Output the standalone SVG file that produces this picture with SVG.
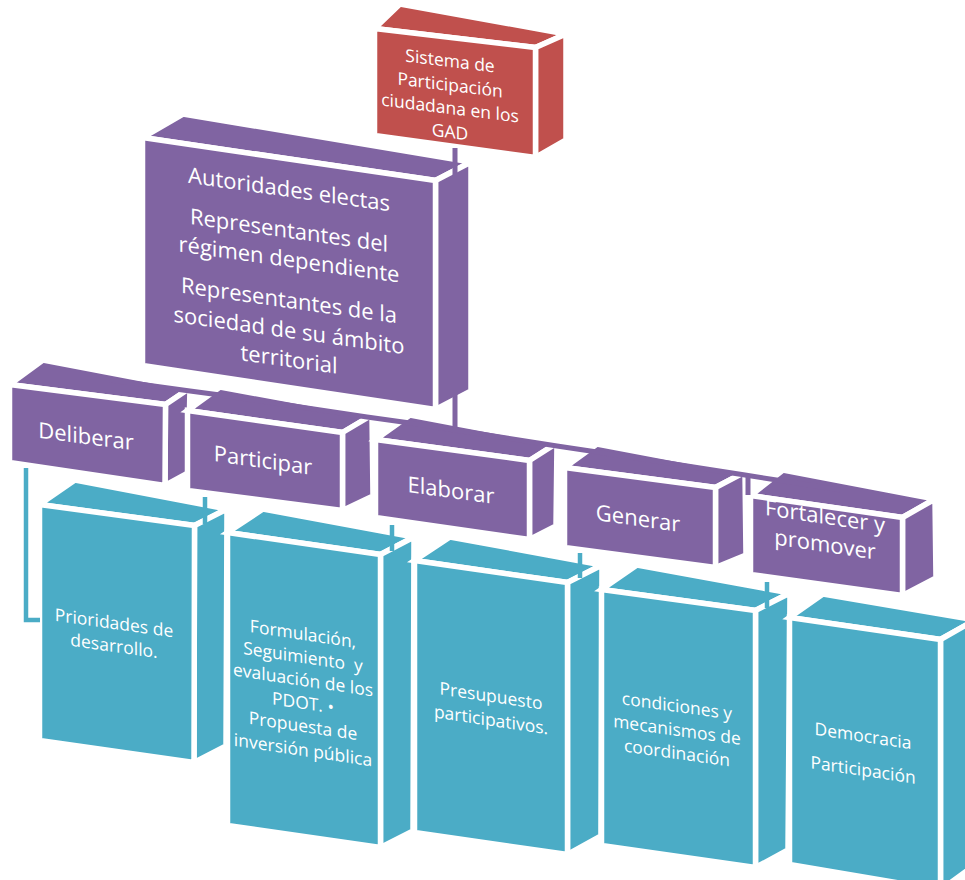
<svg xmlns="http://www.w3.org/2000/svg" width="965" height="880" viewBox="0 0 965 880">
<style>
.r{fill:#C0504D;stroke:#fff;stroke-width:5.5;stroke-linejoin:miter}
.p{fill:#8064A2;stroke:#fff;stroke-width:5.5;stroke-linejoin:miter}
.b{fill:#4BACC6;stroke:#fff;stroke-width:5.5;stroke-linejoin:miter}
.t{font-family:"Open Sans","Liberation Sans",sans-serif;fill:#fff;text-anchor:middle}
.cp{fill:none;stroke:#8064A2;stroke-width:5}
.cb{fill:none;stroke:#4BACC6;stroke-width:4.5}
</style>
<rect width="965" height="880" fill="#fff"/>

<g id="n-sistema">
<polygon class="r" points="374.5,28.5 535.5,47.5 566,34 400,4"/>
<polygon class="r" points="535.5,47.5 566,34 566,140 535.5,157.5"/>
<polygon class="r" points="374.5,28.5 535.5,47.5 535.5,157.5 374.5,135.5"/>
<text class="t" font-size="17.5" transform="translate(450,0) skewY(7)"><tspan x="0" y="67">Sistema de</tspan><tspan x="0" y="91">Participación</tspan><tspan x="0" y="114">ciudadana en los</tspan><tspan x="0" y="138">GAD</tspan></text>
</g>

<g id="n-miembros">
<polygon class="p" points="142.5,137.5 435.5,180.5 471,162 183,114"/>
<polygon class="p" points="435.5,180.5 471,162 471,391 435.5,409.5"/>
<polygon class="p" points="142.5,137.5 435.5,180.5 435.5,409.5 142.5,365.5"/>
<text class="t" font-size="22" transform="translate(289,0) skewY(8)"><tspan x="0" y="197">Autoridades electas</tspan><tspan x="0" y="238">Representantes del</tspan><tspan x="0" y="267">régimen dependiente</tspan><tspan x="0" y="308">Representantes de la</tspan><tspan x="0" y="338">sociedad de su ámbito</tspan><tspan x="0" y="367">territorial</tspan></text>
</g>

<g id="n-deliberar">
<polygon class="p" points="9.5,384.5 165.5,404.5 190,388 43,360"/>
<polygon class="p" points="165.5,404.5 190,388 188,473 165,485.5"/>
<polygon class="p" points="9.5,384.5 165.5,404.5 165,485.5 9.5,462.5"/>
<text class="t" font-size="22" transform="translate(86,0) skewY(7.5)"><tspan x="0" y="444">Deliberar</tspan></text>
</g>

<g id="n-participar">
<polygon class="p" points="187.5,410.5 342.5,432.5 372,415 220,387"/>
<polygon class="p" points="342.5,432.5 372,415 373,496 342.5,510.5"/>
<polygon class="p" points="187.5,410.5 342.5,432.5 342.5,510.5 187.5,490.5"/>
<text class="t" font-size="22" transform="translate(263,0) skewY(8)"><tspan x="0" y="468">Participar</tspan></text>
</g>

<g id="n-elaborar">
<polygon class="p" points="375.5,439.5 529.5,460.5 557,443 410,415"/>
<polygon class="p" points="529.5,460.5 557,443 556,526 529.5,539.5"/>
<polygon class="p" points="375.5,439.5 529.5,460.5 529.5,539.5 375.5,517.5"/>
<text class="t" font-size="22" transform="translate(451,0) skewY(8)"><tspan x="0" y="498">Elaborar</tspan></text>
</g>

<g id="n-generar">
<polygon class="p" points="564.5,467.5 715.5,487.5 745,472 597,444"/>
<polygon class="p" points="715.5,487.5 745,472 746,555 715.5,567.5"/>
<polygon class="p" points="564.5,467.5 715.5,487.5 715.5,567.5 564.5,547.5"/>
<text class="t" font-size="22" transform="translate(638,0) skewY(8)"><tspan x="0" y="526">Generar</tspan></text>
</g>

<g id="n-fortalecer">
<polygon class="p" points="750.5,495.5 902.5,517.5 935,499 783,470"/>
<polygon class="p" points="902.5,517.5 935,499 936,578 902.5,595.5"/>
<polygon class="p" points="750.5,495.5 902.5,517.5 902.5,595.5 750.5,574.5"/>
<text class="t" font-size="22" transform="translate(825,0) skewY(8.5)"><tspan x="0" y="524">Fortalecer y</tspan><tspan x="0" y="552">promover</tspan></text>
</g>

<g id="n-prioridades">
<polygon class="b" points="39.5,504.5 194.5,525.5 227,509 75,480"/>
<polygon class="b" points="194.5,525.5 227,509 226,746 194,762.5"/>
<polygon class="b" points="39.5,504.5 194.5,525.5 194,762.5 39.5,740.5"/>
<text class="t" font-size="17.5" transform="translate(114,0) skewY(8)"><tspan x="0" y="629">Prioridades de</tspan><tspan x="0" y="652">desarrollo.</tspan></text>
</g>

<g id="n-formulacion">
<polygon class="b" points="227.5,532.5 380.5,554.5 414,537 263,509"/>
<polygon class="b" points="380.5,554.5 414,537 413,831 380.5,847.5"/>
<polygon class="b" points="227.5,532.5 380.5,554.5 380.5,847.5 227.5,825.5"/>
<text class="t" font-size="17.5" transform="translate(303,0) skewY(8.5)" xml:space="preserve"><tspan x="0" y="640">Formulación,</tspan><tspan x="0" y="663">Seguimiento  y</tspan><tspan x="0" y="686">evaluación de los</tspan><tspan x="0" y="709">PDOT. •</tspan><tspan x="0" y="732">Propuesta de</tspan><tspan x="0" y="756">inversión pública</tspan></text>
</g>

<g id="n-presupuesto">
<polygon class="b" points="414.5,560.5 567.5,582.5 602,565 450,537"/>
<polygon class="b" points="567.5,582.5 602,565 601,836 567.5,854.5"/>
<polygon class="b" points="414.5,560.5 567.5,582.5 567.5,854.5 414.5,832.5"/>
<text class="t" font-size="17.5" transform="translate(491,0) skewY(8.5)"><tspan x="0" y="702">Presupuesto</tspan><tspan x="0" y="726">participativos.</tspan></text>
</g>

<g id="n-condiciones">
<polygon class="b" points="601.5,589.5 755.5,610.5 790,593 637,565"/>
<polygon class="b" points="755.5,610.5 790,593 788,850 755.5,867.5"/>
<polygon class="b" points="601.5,589.5 755.5,610.5 755.5,867.5 601.5,845.5"/>
<text class="t" font-size="17.5" transform="translate(677,0) skewY(8)"><tspan x="0" y="712">condiciones y</tspan><tspan x="0" y="736">mecanismos de</tspan><tspan x="0" y="759">coordinación</tspan></text>
</g>

<g id="n-democracia">
<polygon class="b" points="789.5,617.5 940.5,639.5 975,620 823,594"/>
<polygon class="b" points="940.5,639.5 975,620 975,865 940.5,890"/>
<polygon class="b" points="789.5,617.5 940.5,639.5 940.5,890 789.5,864.5"/>
<text class="t" font-size="17.5" transform="translate(863,0) skewY(8.5)"><tspan x="0" y="742">Democracia</tspan><tspan x="0" y="776">Participación</tspan></text>
</g>

<g id="connectors">
<line class="cp" x1="455" y1="148" x2="455" y2="430"/>
<polyline class="cp" points="110,380 190,391 220,395 367,417 410,423 557,446 597,452 745,475 783,481 840,490"/>
<line class="cp" x1="748" y1="474" x2="748" y2="495"/>
<polyline class="cb" points="26,468 26,620 40,620"/>
<line class="cb" x1="205" y1="497" x2="205" y2="524"/>
<line class="cb" x1="392" y1="525" x2="392" y2="551"/>
<line class="cb" x1="580" y1="553" x2="580" y2="578"/>
<line class="cb" x1="767" y1="582" x2="767" y2="608"/>
</g>
</svg>
